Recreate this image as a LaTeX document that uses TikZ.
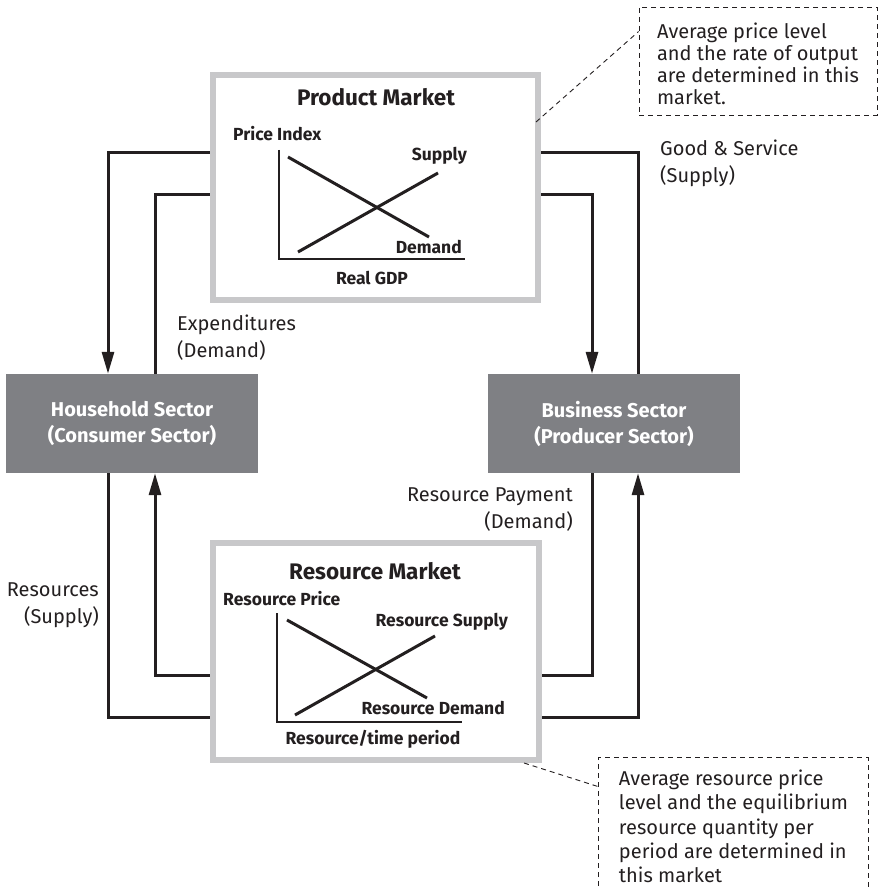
\documentclass[tikz,border=0pt]{standalone}
\usepackage{fontspec}
\setmainfont{Fira Sans}
\usetikzlibrary{arrows.meta,backgrounds}
\definecolor{frame}{RGB}{200,200,202}
\definecolor{sector}{RGB}{127,128,132}
\definecolor{ink}{RGB}{35,31,32}

\begin{document}
\begin{tikzpicture}[x=1pt,y=-1pt,
  market/.style={draw=frame, line width=6pt, fill=white, inner sep=0pt},
  sectorbox/.style={fill=sector, text=white, align=center, inner sep=0pt,
    minimum width=252pt, minimum height=99pt,
    font=\bfseries\fontsize{20}{26}\selectfont},
  flow/.style={draw=ink, line width=3pt},
  flowarrow/.style={flow, -{Triangle[length=22pt,width=12pt]}},
  label/.style={text=ink, inner sep=0pt, font=\fontsize{20}{27}\selectfont},
  title/.style={text=ink, inner sep=0pt, font=\bfseries\fontsize{22.5}{26}\selectfont},
  chartlabel/.style={text=ink, inner sep=0pt, font=\bfseries\fontsize{17.5}{20}\selectfont},
  axis/.style={draw=ink, line width=1.5pt},
  curve/.style={draw=ink, line width=3pt},
  leader/.style={draw=ink, line width=0.9pt, dash pattern=on 5pt off 4pt},
  noteframe/.style={leader, inner sep=0pt},
  notetext/.style={text=ink, align=left, inner sep=0pt},
  notesmall/.style={notetext, font=\fontsize{20}{22}\selectfont},
  notelarge/.style={notetext, font=\fontsize{20}{24.3}\selectfont}
]
\useasboundingbox (0,0) rectangle (878,890);

% markets and sectors
\node[market, minimum width=325pt, minimum height=225pt] (prod) at (375.5,187.5) {};
\node[market, minimum width=326pt, minimum height=217pt] (res) at (376,651.5) {};
\node[sectorbox] (hh) at (132,423.5) {Household Sector\\(Consumer Sector)};
\node[sectorbox] (bs) at (614,423.5) {Business Sector\\(Producer Sector)};

% lanes of the circular flow
\coordinate (hhOut) at (108,0);
\coordinate (hhIn)  at (155,0);
\coordinate (bsIn)  at (592,0);
\coordinate (bsOut) at (638,0);
\coordinate (topOut) at (0,153);
\coordinate (topIn)  at (0,195);
\coordinate (botIn)  at (0,675);
\coordinate (botOut) at (0,717);

\begin{scope}[on background layer]
  \draw[flowarrow] (prod.west |- topOut) -| (hh.north -| hhOut);
  \draw[flow] (hh.north -| hhIn) |- (prod.west |- topIn);
  \draw[flowarrow] (prod.east |- topIn) -| (bs.north -| bsIn);
  \draw[flow] (bs.north -| bsOut) |- (prod.east |- topOut);
  \draw[flow] (hh.south -| hhOut) |- (res.west |- botOut);
  \draw[flowarrow] (res.west |- botIn) -| (hh.south -| hhIn);
  \draw[flow] (bs.south -| bsIn) |- (res.east |- botIn);
  \draw[flowarrow] (res.east |- botOut) -| (bs.south -| bsOut);
\end{scope}

% product market chart
\node[title] (prodT) at (376,97) {Product Market};
\node[chartlabel, anchor=west] (pY) at (233,134) {Price Index};
\node[chartlabel, anchor=east] (pS) at (467,156) {Supply};
\node[chartlabel, anchor=east] (pD) at (462,247) {Demand};
\node[chartlabel] (pX) at (372,278) {Real GDP};
\draw[axis] (279,150) -- (279,259) -- (465,259);
\draw[curve] (288,157) -- (429,237);
\draw[curve] (298,252) -- (438,173);

% resource market chart
\node[title] (resT) at (375,571) {Resource Market};
\node[chartlabel, anchor=west] (rY) at (223,599) {Resource Price};
\node[chartlabel, anchor=east] (rS) at (508,622) {Resource Supply};
\node[chartlabel, anchor=east] (rD) at (505,708) {Resource Demand};
\node[chartlabel] (rX) at (373,739) {Resource/time period};
\draw[axis] (277,613) -- (277,722) -- (462,722);
\draw[curve] (287,620) -- (427,698);
\draw[curve] (295,715) -- (435,636);

% flow labels
\node[label, align=left, anchor=west] (lblGS) at (660,163) {Good \& Service\\(Supply)};
\node[label, align=left, anchor=west] (lblEx) at (177,338) {Expenditures\\(Demand)};
\node[label, align=right, anchor=east] (lblRP) at (573,510) {Resource Payment\\(Demand)};
\node[label, align=right, anchor=east] (lblRs) at (99,605) {Resources\\(Supply)};

% notes
\node[noteframe, minimum width=238pt, minimum height=108pt] (note1) at (758,61) {};
\node[notesmall] (note1txt) at (758,64)
  {Average price level\\and the rate of output\\are determined in this\\market.};
\draw[leader] ([xshift=-5pt,yshift=-50pt]prod.north east) -- ([yshift=-25pt]note1.north west);

\node[notelarge, minimum width=269pt, minimum height=137pt] (note2) at (733.5,826.5)
  {Average resource price\\level and the equilibrium\\resource quantity per\\period are determined in\\this market};
\draw[leader] (note2.south west) |- (note2.north east) -- (note2.south east);
\draw[leader] ([xshift=-18pt]res.south east) -- ([yshift=-29pt]note2.north west);
\end{tikzpicture}
\end{document}
